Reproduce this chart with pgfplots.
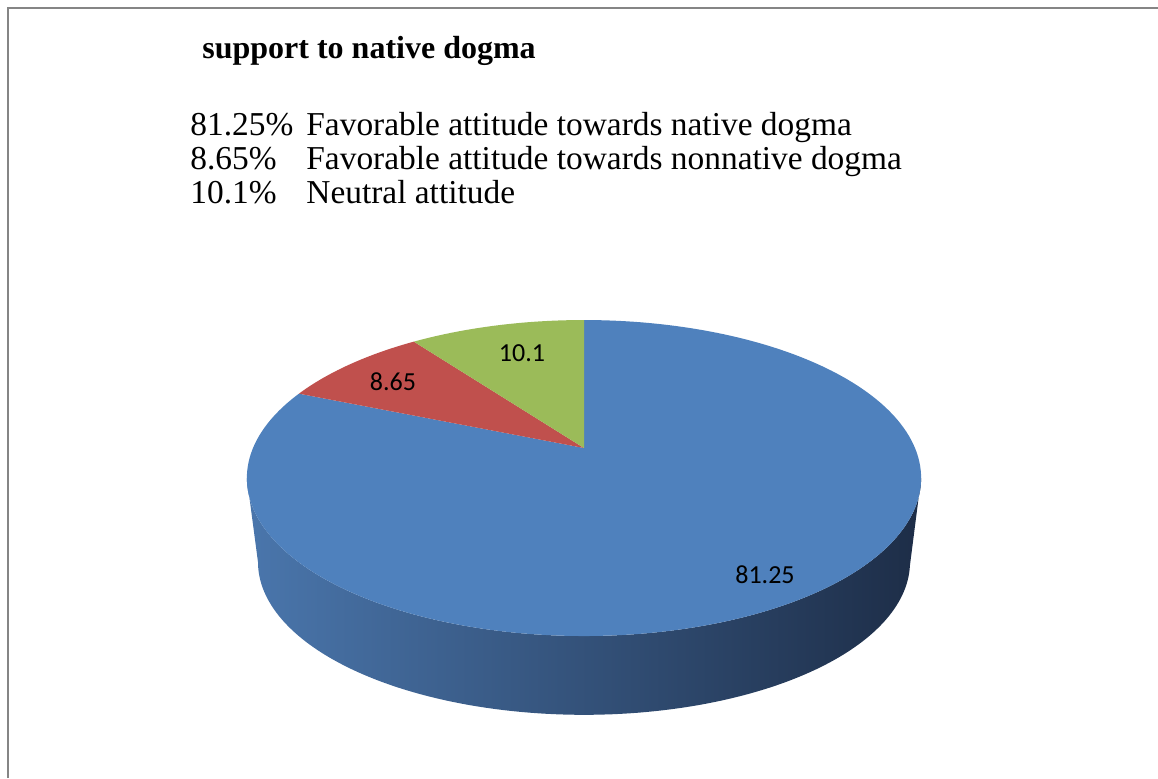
\documentclass[border=0pt]{standalone}
\usepackage{pgfplots}
\pgfplotsset{compat=1.18}
\usepackage{pgfplotstable}
\usepackage{fontspec}
\setmainfont{Liberation Serif}
\newfontfamily\calibri{Carlito}
\definecolor{pieblue}{HTML}{4F81BD}
\definecolor{piered}{HTML}{C0504D}
\definecolor{piegreen}{HTML}{9BBB59}
\definecolor{sideL}{HTML}{4A76AC}
\definecolor{sideM}{HTML}{30496E}
\definecolor{sideR}{HTML}{1D2D47}
\definecolor{framegray}{HTML}{858585}
\pgfplotstableread{
value
81.25
8.65
10.1
}\piedata
\begin{document}
\begin{tikzpicture}
\pgfplotstablegetelem{0}{value}\of\piedata \let\va\pgfplotsretval
\pgfplotstablegetelem{1}{value}\of\piedata \let\vb\pgfplotsretval
\pgfplotstablegetelem{2}{value}\of\piedata \let\vc\pgfplotsretval
\pgfmathsetmacro\aA{90}
\pgfmathsetmacro\aB{90-3.6*\va}
\pgfmathsetmacro\aC{\aB-3.6*\vb}
\pgfmathsetmacro\aD{\aC-3.6*\vc}
\begin{axis}[
  at={(0,0)}, anchor=south west,
  x=0.5pt, y=0.5pt,
  xmin=0, xmax=1158, ymin=0, ymax=778,
  y dir=reverse,
  hide axis,
  clip=false,
  declare function={
    px(\a,\s)=584+\s*331*cos(\a)/(1+0.19*sin(\a));
    py(\a,\s,\d)=448+\d-\s*152.3*sin(\a)/(1+0.19*sin(\a));
    ang(\u)=ifthenelse(\u<1,191+158*\u,349-158*(\u-1));
    sc(\u)=ifthenelse(\u<1,1,0.967);
    dd(\u)=ifthenelse(\u<1,0,85);
  },
]
% frame
\addplot[draw=framegray, line width=1pt, mark=none] coordinates {(8,778) (8,8) (1158,8)};
% side of the pie
\addplot[draw=none, left color=sideL, middle color=sideM, right color=sideR, domain=0:2, samples=241]
  ({px(ang(x),sc(x))},{py(ang(x),sc(x),dd(x))}) -- cycle;
% wedges
\addplot[draw=none, fill=pieblue, domain=\aB:\aA, samples=200]
  ({px(x,1)},{py(x,1,0)}) -- (axis cs:584,448) -- cycle;
\addplot[draw=none, fill=piered, domain=\aC:\aB, samples=40]
  ({px(x,1)},{py(x,1,0)}) -- (axis cs:584,448) -- cycle;
\addplot[draw=none, fill=piegreen, domain=\aD:\aC, samples=40]
  ({px(x,1)},{py(x,1,0)}) -- (axis cs:584,448) -- cycle;
% data labels
\node[font=\calibri\fontsize{13}{15}\selectfont] at (axis cs:765,575) {81.25};
\node[font=\calibri\fontsize{13}{15}\selectfont] at (axis cs:393,382) {8.65};
\node[font=\calibri\fontsize{13}{15}\selectfont] at (axis cs:522,353) {10.1};
% title and legend text
\node[anchor=base west, inner sep=0pt, font=\bfseries\fontsize{16}{19}\selectfont] at (axis cs:202,58) {support to native dogma};
\node[anchor=base west, inner sep=0pt, font=\fontsize{16.7}{19}\selectfont] at (axis cs:190,135) {81.25\%};
\node[anchor=base west, inner sep=0pt, font=\fontsize{16.7}{19}\selectfont] at (axis cs:306,135) {Favorable attitude towards native dogma};
\node[anchor=base west, inner sep=0pt, font=\fontsize{16.7}{19}\selectfont] at (axis cs:190,169) {8.65\%};
\node[anchor=base west, inner sep=0pt, font=\fontsize{16.7}{19}\selectfont] at (axis cs:306,169) {Favorable attitude towards nonnative dogma};
\node[anchor=base west, inner sep=0pt, font=\fontsize{16.7}{19}\selectfont] at (axis cs:190,203) {10.1\%};
\node[anchor=base west, inner sep=0pt, font=\fontsize{16.7}{19}\selectfont] at (axis cs:306,203) {Neutral attitude};
\end{axis}
\pgfresetboundingbox
\useasboundingbox (0,0) rectangle (579pt,389pt);
\end{tikzpicture}
\end{document}
